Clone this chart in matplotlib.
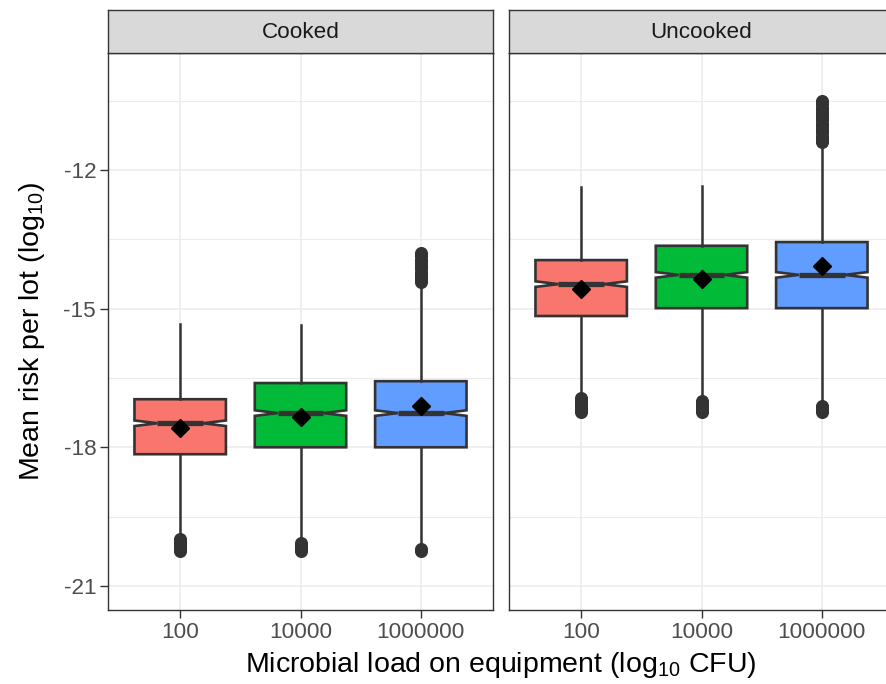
import matplotlib.pyplot as plt

plt.rcParams['font.family'] = ['Liberation Sans', 'DejaVu Sans']
plt.rcParams['mathtext.fontset'] = 'custom'
plt.rcParams['mathtext.rm'] = 'Liberation Sans'
plt.rcParams['mathtext.default'] = 'regular'
plt.rcParams['axes.unicode_minus'] = False

panels = ["Cooked", "Uncooked"]
loads = ["100", "10000", "1000000"]
fill_colors = ["#F8766D", "#00BA38", "#619CFF"]

# box statistics per panel, one value per load (log10 risk)
q1 = {"Cooked": [-18.15, -18.00, -18.00], "Uncooked": [-15.16, -14.99, -14.99]}
q3 = {"Cooked": [-16.96, -16.61, -16.57], "Uncooked": [-13.95, -13.64, -13.56]}
medians = {"Cooked": [-17.48, -17.26, -17.26], "Uncooked": [-14.47, -14.27, -14.27]}
means = {"Cooked": [-17.58, -17.35, -17.11], "Uncooked": [-14.58, -14.36, -14.08]}
whisker_lo = {"Cooked": [-19.95, -20.02, -20.10], "Uncooked": [-16.90, -16.95, -17.05]}
whisker_hi = {"Cooked": [-15.33, -15.35, -14.47], "Uncooked": [-12.37, -12.35, -11.45]}
notch_lo = {"Cooked": [-17.54, -17.32, -17.32], "Uncooked": [-14.53, -14.33, -14.33]}
notch_hi = {"Cooked": [-17.42, -17.20, -17.20], "Uncooked": [-14.41, -14.21, -14.21]}
outliers = {
    "Cooked": [
        [-19.99, -20.04, -20.09, -20.14, -20.19, -20.25],
        [-20.07, -20.12, -20.17, -20.21, -20.25],
        [-13.80, -13.87, -13.94, -14.01, -14.08, -14.15, -14.22, -14.29, -14.36, -14.42,
         -20.20, -20.25],
    ],
    "Uncooked": [
        [-16.94, -16.99, -17.04, -17.09, -17.14, -17.19, -17.24],
        [-17.00, -17.05, -17.10, -17.15, -17.20, -17.24],
        [-10.51, -10.58, -10.65, -10.72, -10.79, -10.86, -10.93, -11.00, -11.07, -11.14,
         -11.21, -11.28, -11.34, -11.39, -17.10, -17.17, -17.24],
    ],
}

W, H = 886, 684
fig = plt.figure(figsize=(W / 100, H / 100), dpi=100)

panel_left = [108, 509]
panel_w = 385
panel_top = 53
panel_bot = 610
strip_top = 10

edge = "#333333"
for i, name in enumerate(panels):
    ax = fig.add_axes([panel_left[i] / W, (H - panel_bot) / H,
                       panel_w / W, (panel_bot - panel_top) / H])
    stats = []
    for j in range(len(loads)):
        stats.append(dict(med=medians[name][j], q1=q1[name][j], q3=q3[name][j],
                          whislo=whisker_lo[name][j], whishi=whisker_hi[name][j],
                          cilo=notch_lo[name][j], cihi=notch_hi[name][j],
                          mean=means[name][j], fliers=outliers[name][j]))
    bp = ax.bxp(stats, positions=[1, 2, 3], widths=0.76, shownotches=True, patch_artist=True,
                showmeans=True, showcaps=False,
                boxprops=dict(edgecolor=edge, linewidth=1.9),
                whiskerprops=dict(color=edge, linewidth=1.8),
                medianprops=dict(color=edge, linewidth=3.8, solid_capstyle='butt'),
                meanprops=dict(marker='D', markerfacecolor='black', markeredgecolor='black',
                               markersize=9.5),
                flierprops=dict(marker='o', markerfacecolor=edge, markeredgecolor=edge,
                                markersize=8.4))
    for patch, c in zip(bp['boxes'], fill_colors):
        patch.set_facecolor(c)

    ax.set_xlim(0.4, 3.6)
    ax.set_ylim(-21.52, -9.47)
    ax.set_xticks([1, 2, 3])
    ax.set_xticklabels(loads)
    ax.set_yticks([-21, -18, -15, -12])
    ax.set_yticks([-19.5, -16.5, -13.5, -10.5], minor=True)
    ax.grid(which='major', color='#EBEBEB', linewidth=1.1, zorder=0)
    ax.grid(which='minor', axis='y', color='#EBEBEB', linewidth=0.8, zorder=0)
    ax.set_axisbelow(True)
    ax.tick_params(axis='both', which='major', length=5.5, width=1.0, color=edge,
                   labelsize=16.2, labelcolor='#4D4D4D', pad=3)
    ax.tick_params(axis='y', which='minor', length=0)
    if i == 1:
        ax.tick_params(axis='y', which='major', length=0, labelleft=False)
    for sp in ax.spines.values():
        sp.set_color(edge)
        sp.set_linewidth(1.0)

    sax = fig.add_axes([panel_left[i] / W, (H - panel_top) / H,
                        panel_w / W, (panel_top - strip_top) / H])
    sax.set_facecolor('#D9D9D9')
    sax.set_xticks([])
    sax.set_yticks([])
    for sp in sax.spines.values():
        sp.set_color(edge)
        sp.set_linewidth(1.0)
    sax.text(0.5, 0.48, name, ha='center', va='center', fontsize=16.2, color='#1A1A1A',
             transform=sax.transAxes)

fig.text(501 / W, 1 - 665 / H, "Microbial load on equipment (log$_{10}$ CFU)",
         ha='center', va='center', fontsize=20.5)
fig.text(32 / W, 1 - 331 / H, "Mean risk per lot (log$_{10}$)",
         ha='center', va='center', rotation=90, fontsize=20.5)

plt.savefig("out.png", dpi=100)
plt.close()
